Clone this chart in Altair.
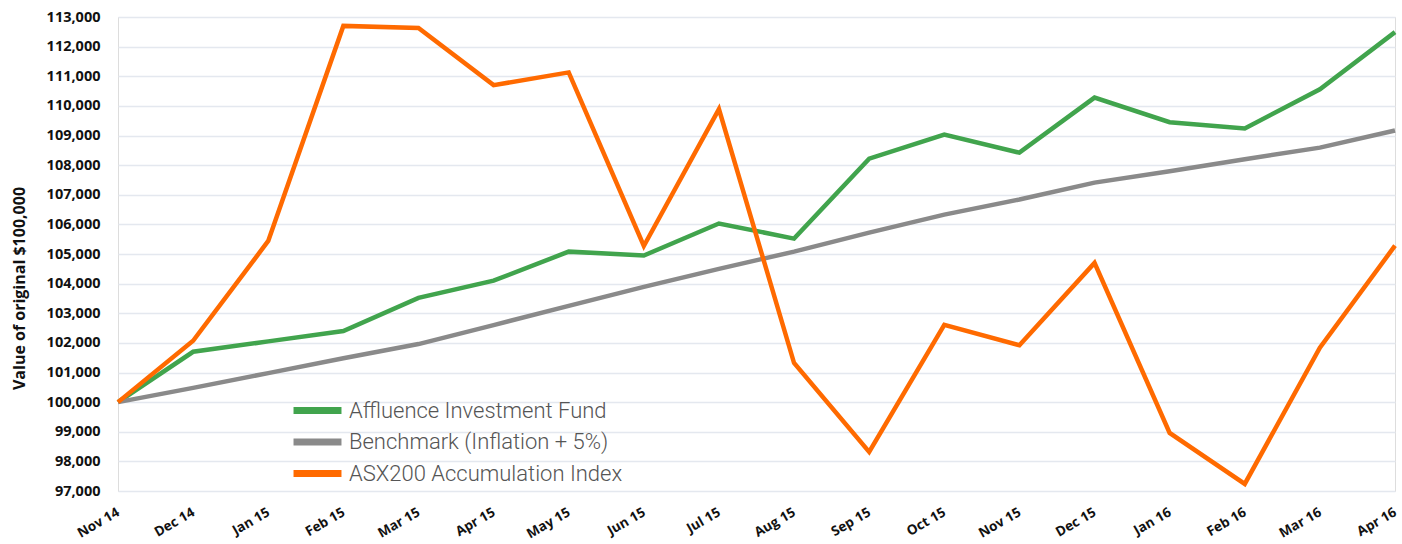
import altair as alt
import pandas as pd

months = ["Nov 14", "Dec 14", "Jan 15", "Feb 15", "Mar 15", "Apr 15", "May 15", "Jun 15", "Jul 15",
          "Aug 15", "Sep 15", "Oct 15", "Nov 15", "Dec 15", "Jan 16", "Feb 16", "Mar 16", "Apr 16"]

affluence = [100000, 101700, 102050, 102400, 103520, 104100, 105080, 104950, 106030,
             105520, 108220, 109030, 108420, 110280, 109450, 109240, 110560, 112490]
benchmark = [100000, 100480, 100980, 101480, 101960, 102600, 103250, 103890, 104500,
             105080, 105720, 106330, 106840, 107410, 107790, 108200, 108590, 109170]
asx200 = [100000, 102070, 105440, 112700, 112630, 110700, 111130, 105270, 109890,
          101320, 98320, 102610, 101920, 104700, 98960, 97240, 101840, 105280]

series_names = ["Affluence Investment Fund", "Benchmark (Inflation + 5%)", "ASX200 Accumulation Index"]
series_values = [affluence, benchmark, asx200]
colors = ["#41a44d", "#8a8a8a", "#ff6a00"]

rows = []
for name, vals in zip(series_names, series_values):
    for i, (m, v) in enumerate(zip(months, vals)):
        rows.append({"Month": m, "Value": v, "Series": name, "idx": i})
df = pd.DataFrame(rows)

chart = alt.Chart(df).mark_line(strokeWidth=4.5, strokeJoin="miter").encode(
    x=alt.X("Month:O", sort=months, scale=alt.Scale(type="point", padding=0),
            axis=alt.Axis(title=None, labelAngle=-30, labelAlign="right", labelBaseline="middle",
                          labelPadding=20, labelFont="Open Sans", labelFontWeight="bold",
                          labelFontSize=13.5, labelColor="#111111", ticks=False, domain=False,
                          grid=False, labelOverlap=False)),
    y=alt.Y("Value:Q", scale=alt.Scale(domain=[97000, 113000], nice=False, zero=False),
            axis=alt.Axis(title="Value of original $100,000", values=list(range(97000, 114000, 1000)),
                          format=",.0f", labelFont="Open Sans", labelFontWeight="bold", labelFontSize=14.5,
                          labelColor="#111111", labelPadding=18, ticks=False, domain=False,
                          gridColor="#e4e8ef", gridWidth=1.5,
                          titleFont="Open Sans", titleFontWeight="bold", titleFontSize=16,
                          titleColor="#111111", titleAngle=-90, titleX=-99, titleY=271,
                          titleAlign="center", titleBaseline="middle")),
    color=alt.Color("Series:N", sort=series_names,
                    scale=alt.Scale(domain=series_names, range=colors),
                    legend=alt.Legend(title=None, orient="none", legendX=172, legendY=383,
                                      symbolType="stroke", symbolStrokeWidth=7, symbolSize=2300,
                                      clipHeight=21,
                                      labelFont="Roboto", labelFontWeight=300, labelFontSize=22,
                                      labelColor="#555555", rowPadding=8.5, labelOffset=4,
                                      labelLimit=400)),
    detail="Series:N",
    order="idx:Q",
).properties(
    width=1277, height=474,
    autosize=alt.AutoSizeParams(type="none"),
    padding={"left": 118, "top": 17, "right": 7, "bottom": 53},
).configure_view(stroke=None).configure(background="white")

chart.save("out.html", embed_options={"renderer": "svg", "actions": False})
